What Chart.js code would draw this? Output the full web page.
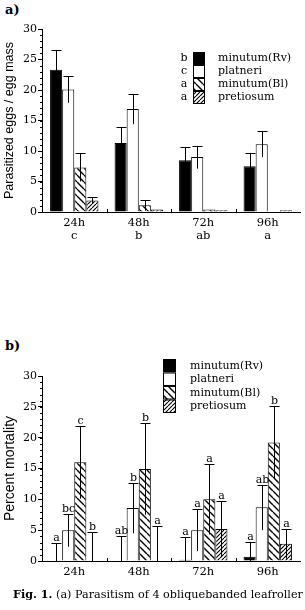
<!DOCTYPE html>
<html>
<head>
<meta charset="utf-8">
<script src="https://cdn.jsdelivr.net/npm/chart.js@4.4.1/dist/chart.umd.min.js"></script>
<style>
  body { margin: 0; background: #fff; width: 305px; height: 610px; overflow: hidden; position: relative; font-family: "DejaVu Serif", serif; color: #000; }
  .panel { position: absolute; left: 5px; font-weight: bold; font-size: 13px; }
  canvas { position: absolute; left: 0; }
  #caption { position: absolute; left: 13px; top: 587px; font-size: 11.2px; white-space: nowrap; }
</style>
</head>
<body>
<div class="panel" style="top:2px">a)</div>
<canvas id="chartA" width="305" height="250" style="top:0"></canvas>
<div class="panel" style="top:338px">b)</div>
<canvas id="chartB" width="305" height="260" style="top:330px"></canvas>
<div id="caption"><b>Fig. 1.</b> (a) Parasitism of 4 obliquebanded leafroller</div>

<script>
const times = ["24h", "48h", "72h", "96h"];
const seriesNames = ["minutum(Rv)", "platneri", "minutum(Bl)", "pretiosum"];

// a) parasitized eggs per egg mass
const eggsRv = [23.3, 11.3, 8.5, 7.5];
const eggsPlatneri = [20.1, 16.9, 9.0, 11.1];
const eggsBl = [7.3, 1.1, 0.4, 0.1];
const eggsPretiosum = [1.9, 0.4, 0.3, 0.3];
const eggsErrRv = [3.2, 2.7, 2.1, 2.2];
const eggsErrPlatneri = [2.2, 2.5, 1.9, 2.1];
const eggsErrBl = [2.3, 0.9, 0, 0];
const eggsErrPretiosum = [0.5, 0, 0, 0];
const timeLettersA = ["c", "b", "ab", "a"];
const legendLettersA = ["b", "c", "a", "a"];

// b) percent mortality
const mortRv = [0, 0, 0.2, 0.7];
const mortPlatneri = [5.0, 8.6, 5.0, 8.7];
const mortBl = [16.0, 14.9, 10.0, 19.2];
const mortPretiosum = [0, 0, 5.2, 2.8];
const mortErrRv = [2.9, 4.0, 3.7, 2.4];
const mortErrPlatneri = [2.7, 4.1, 3.4, 3.7];
const mortErrBl = [5.9, 7.4, 5.7, 5.9];
const mortErrPretiosum = [4.7, 5.6, 4.6, 2.4];
const lettersRv = ["a", "ab", "a", "a"];
const lettersPlatneri = ["bc", "b", "a", "ab"];
const lettersBl = ["c", "b", "a", "b"];
const lettersPretiosum = ["b", "a", "a", "a"];

const serif = "DejaVu Serif";

function hatch(dir, gap, lw) {
  const c = document.createElement("canvas");
  c.width = gap; c.height = gap;
  const g = c.getContext("2d");
  g.fillStyle = "#fff";
  g.fillRect(0, 0, gap, gap);
  g.strokeStyle = "#000";
  g.lineWidth = lw;
  g.beginPath();
  for (let k = -1; k <= 1; k++) {
    if (dir === "\\") { g.moveTo(k * gap, 0); g.lineTo(k * gap + gap, gap); }
    else { g.moveTo(k * gap, gap); g.lineTo(k * gap + gap, 0); }
  }
  g.stroke();
  return g.createPattern(c, "repeat");
}

const fills = ["#000", "#fff", hatch("\\", 7, 1.4), hatch("/", 4, 1.1)];

const errorBars = {
  id: "errorBars",
  afterDatasetsDraw(chart) {
    const ctx = chart.ctx, y = chart.scales.y;
    ctx.save();
    ctx.strokeStyle = "#000";
    ctx.fillStyle = "#000";
    ctx.lineWidth = 1;
    ctx.font = "11px '" + serif + "'";
    ctx.textAlign = "center";
    ctx.textBaseline = "bottom";
    chart.data.datasets.forEach((ds, i) => {
      chart.getDatasetMeta(i).data.forEach((bar, j) => {
        const v = ds.data[j], e = ds.errors[j];
        if (!e) return;
        const top = Math.round(y.getPixelForValue(v + e)) + 0.5;
        const bot = y.getPixelForValue(Math.max(0, v - e));
        const x = Math.round(bar.x) + 0.5;
        ctx.beginPath();
        ctx.moveTo(x, bot); ctx.lineTo(x, top);
        ctx.moveTo(x - 5, top); ctx.lineTo(x + 5, top);
        ctx.stroke();
        if (ds.letters) ctx.fillText(ds.letters[j], x, top);
      });
    });
    ctx.restore();
  }
};

const axisTicks = {
  id: "axisTicks",
  afterDraw(chart) {
    const ctx = chart.ctx, y = chart.scales.y, x = chart.scales.x;
    const left = chart.chartArea.left, bottom = chart.chartArea.bottom;
    ctx.save();
    ctx.strokeStyle = "#000";
    ctx.lineWidth = 1;
    ctx.beginPath();
    for (let v = y.min; v <= y.max; v++) {
      const py = Math.round(y.getPixelForValue(v)) + 0.5;
      ctx.moveTo(left - 2, py); ctx.lineTo(left, py);
    }
    for (let i = 0; i < x.ticks.length - 1; i++) {
      const px = Math.round((x.getPixelForValue(i) + x.getPixelForValue(i + 1)) / 2) + 0.5;
      ctx.moveTo(px, bottom); ctx.lineTo(px, bottom - 3);
    }
    ctx.stroke();
    ctx.restore();
  }
};

const boxLegend = {
  id: "boxLegend",
  afterDraw(chart, args, o) {
    const ctx = chart.ctx;
    ctx.save();
    ctx.font = "11px '" + serif + "'";
    ctx.textBaseline = "middle";
    chart.data.datasets.forEach((ds, i) => {
      const top = o.y + i * o.h;
      ctx.fillStyle = ds.backgroundColor;
      ctx.fillRect(o.x, top, o.w, o.h);
      ctx.strokeStyle = "#000";
      ctx.lineWidth = 1;
      ctx.strokeRect(o.x + 0.5, top + 0.5, o.w - 1, o.h - 1);
      ctx.fillStyle = "#000";
      ctx.textAlign = "left";
      ctx.fillText(ds.label, o.textX, top + o.h / 2);
      if (o.letters) {
        ctx.textAlign = "center";
        ctx.fillText(o.letters[i], o.x - 9, top + o.h / 2);
      }
    });
    ctx.restore();
  }
};

function makeChart(id, labels, values, errors, letters, yTitle, titleSize, top, bottom, legend) {
  const canvas = document.getElementById(id);
  const h = canvas.height;
  new Chart(canvas, {
    type: "bar",
    data: {
      labels: labels,
      datasets: seriesNames.map((name, i) => ({
        label: name,
        data: values[i],
        errors: errors[i],
        letters: letters ? letters[i] : null,
        backgroundColor: fills[i],
        borderColor: "#000",
        borderWidth: 1,
        categoryPercentage: 0.75,
        barPercentage: 1,
      })),
    },
    options: {
      responsive: false,
      animation: false,
      layout: { padding: { top: top, right: 5, left: 0, bottom: 0 } },
      plugins: {
        legend: { display: false },
        tooltip: { enabled: false },
        boxLegend: legend,
      },
      scales: {
        x: {
          grid: { drawOnChartArea: false, drawTicks: false },
          border: { color: "#000" },
          ticks: {
            color: "#000",
            padding: 5,
            maxRotation: 0,
            font: { family: serif, size: 11.5, lineHeight: 1.1 },
          },
          afterFit: (s) => { s.height = h - bottom; s.paddingLeft = 0; s.paddingRight = 0; },
        },
        y: {
          min: 0,
          max: 30,
          ticks: {
            stepSize: 5,
            color: "#000",
            padding: 1,
            font: { family: serif, size: 11 },
          },
          grid: { drawOnChartArea: false, tickLength: 4, color: "#000" },
          border: { color: "#000" },
          title: {
            display: true,
            text: yTitle,
            color: "#000",
            padding: { top: 2, bottom: 0 },
            font: { family: "Liberation Sans", size: titleSize },
          },
          afterFit: (s) => { s.width = 42; s.paddingTop = 0; s.paddingBottom = 0; },
        },
      },
    },
    plugins: [errorBars, axisTicks, boxLegend],
  });
}

makeChart(
  "chartA",
  times.map((t, i) => [t, timeLettersA[i]]),
  [eggsRv, eggsPlatneri, eggsBl, eggsPretiosum],
  [eggsErrRv, eggsErrPlatneri, eggsErrBl, eggsErrPretiosum],
  null,
  "Parasitized eggs / egg mass",
  12.5,
  29, 212,
  { x: 193, y: 52, w: 12, h: 13, textX: 218, letters: legendLettersA }
);

makeChart(
  "chartB",
  times,
  [mortRv, mortPlatneri, mortBl, mortPretiosum],
  [mortErrRv, mortErrPlatneri, mortErrBl, mortErrPretiosum],
  [lettersRv, lettersPlatneri, lettersBl, lettersPretiosum],
  "Percent mortality",
  14,
  46, 231,
  { x: 163, y: 29, w: 13, h: 13.5, textX: 190, letters: null }
);
</script>
</body>
</html>
